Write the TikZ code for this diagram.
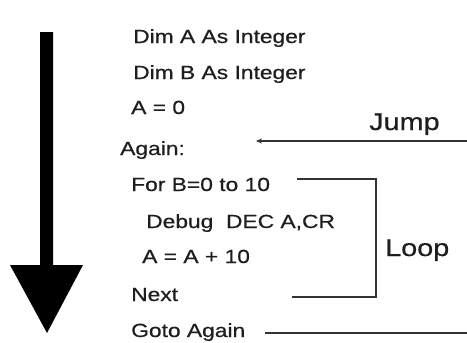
\documentclass[tikz,border=0pt]{standalone}
\usepackage{fontspec}
\setmainfont{Liberation Sans}
\newfontfamily\codefont[FakeStretch=1.2,FakeBold=0.6]{Liberation Sans}
\usetikzlibrary{arrows.meta}
\definecolor{ink}{HTML}{1E1E1E}
\definecolor{wire}{HTML}{333333}
\tikzset{
  code/.style={anchor=base west, inner sep=0pt, text=ink, font=\codefont\fontsize{19}{19}\selectfont},
  label/.style={anchor=base west, inner sep=0pt, text=ink, font=\codefont\fontsize{24}{24}\selectfont},
  wireline/.style={draw=wire, line width=1.8pt},
}
\begin{document}
\begin{tikzpicture}[x=1pt,y=-1pt]
\useasboundingbox (0,0) rectangle (467,343);
% big downward arrow
\fill[black] (40,32) -- (53,32) -- (53,265) -- (83,265) -- (47,333) -- (10,265) -- (40,265) -- cycle;
% code lines
\node[code] (l1) at (133,43) {Dim A As Integer};
\node[code] (l2) at (133,79) {Dim B As Integer};
\node[code] (l3) at (131,114) {A = 0};
\node[code] (l4) at (120,155) {Again:};
\node[code] (l5) at (131,191) {For B=0 to 10};
\node[code] (l6) at (146,228) {Debug\ \ DEC A,CR};
\node[code] (l7) at (142,263) {A = A + 10};
\node[code] (l8) at (131,301) {Next};
\node[code] (l9) at (131,337) {Goto Again};
% labels
\node[label] (jump) at (369,130) {Jump};
\node[label] (loop) at (385,256) {Loop};
% jump arrow
\coordinate (jr) at (467,141);
\coordinate (jt) at (256,141);
\draw[wireline, -{Stealth[length=6pt,width=5pt]}] (jr) -- (jt);
% loop bracket
\coordinate (lt) at (297,179);
\coordinate (lb) at (292,297);
\draw[wireline] (lt) -- (376,179) -- (376,297) -- (lb);
% goto line
\coordinate (gl) at (265,333);
\coordinate (gr) at (467,333);
\draw[wireline] (gl) -- (gr);
\end{tikzpicture}
\end{document}
